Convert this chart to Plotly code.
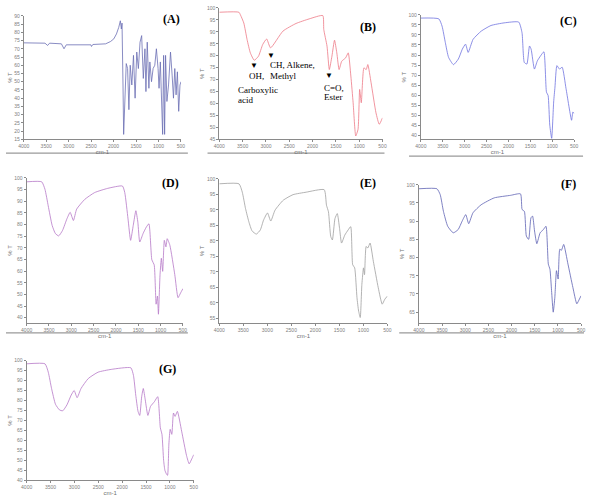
import plotly.graph_objects as go

W, H = 590, 496

# ---------------- data (wavenumber cm-1, %T) ----------------
a_wn = [4000, 3526, 3468, 3424, 3161, 3103, 3052, 2797, 2505, 2491, 2461, 2177, 2068, 1995, 1936, 1885,
        1849, 1827, 1812, 1790, 1776, 1754, 1718, 1688, 1659, 1630, 1594, 1557, 1521, 1484, 1448, 1411,
        1375, 1338, 1302, 1280, 1251, 1214, 1193, 1156, 1120, 1083, 1047, 1010, 988, 959, 930, 908, 886,
        864, 843, 813, 777, 733, 697, 667, 638, 609, 580, 551, 522, 500]
a_t = [73.6, 73.4, 72.0, 73.4, 73.0, 70.0, 72.4, 72.6, 72.4, 71.4, 72.6, 73.0, 74.4, 76.0, 79.0, 83.0,
       87.0, 82.0, 85.6, 48.0, 18.0, 34.0, 61.0, 58.0, 33.0, 60.0, 48.0, 66.0, 40.0, 68.0, 58.0, 74.0,
       78.0, 52.0, 70.0, 44.0, 74.0, 46.0, 62.0, 50.0, 58.0, 60.0, 70.0, 58.0, 46.0, 62.0, 30.0, 18.0, 66.0,
       18.0, 66.0, 38.0, 48.0, 68.0, 54.0, 40.0, 58.0, 42.0, 56.0, 32.0, 48.0, 50.0]

b_wn = [4000, 3580, 3545, 3475, 3405, 3335, 3251, 3160, 3069, 2985, 2901, 2635, 2355, 2075, 1781, 1760,
        1690, 1641, 1585, 1529, 1480, 1431, 1375, 1291, 1235, 1179, 1130, 1074, 1025, 990, 955, 899, 850,
        815, 745, 640, 570, 500]
b_t = [98.2, 98.2, 97.0, 93.7, 86.8, 81.2, 78.1, 79.8, 84.7, 87.0, 83.3, 90.3, 93.5, 95.4, 96.8, 91.0,
       84.0, 74.2, 79.8, 86.5, 81.2, 74.2, 77.7, 79.1, 81.2, 71.5, 60.3, 46.4, 49.2, 65.9, 60.3, 74.9, 74.2,
       76.3, 68.7, 56.1, 51.3, 54.0]

c_wn = [4000, 3590, 3516, 3441, 3367, 3255, 3144, 3054, 2980, 2920, 2808, 2622, 2399, 2101, 1766, 1691,
        1639, 1580, 1520, 1483, 1408, 1341, 1267, 1192, 1133, 1096, 1058, 1014, 969, 939, 895, 835, 775,
        686, 560, 530, 500]
c_t = [98.4, 98.0, 94.4, 86.2, 78.8, 75.2, 78.0, 82.9, 85.4, 81.3, 87.8, 91.9, 94.7, 96.0, 96.4, 91.1,
       76.3, 75.5, 84.5, 82.9, 73.0, 77.1, 79.6, 81.6, 61.5, 59.9, 45.1, 38.5, 56.6, 64.0, 74.7, 73.0, 73.9,
       63.2, 47.5, 51.6, 50.8]

d_wn = [4000, 3663, 3590, 3517, 3429, 3356, 3282, 3195, 3099, 3026, 2953, 2880, 2697, 2477, 2184, 1855,
        1803, 1730, 1672, 1613, 1554, 1510, 1467, 1393, 1320, 1262, 1196, 1144, 1101, 1071, 1049, 1013,
        983, 954, 917, 881, 852, 793, 683, 610, 551, 500]
d_t = [98.3, 98.3, 95.1, 88.0, 79.6, 76.1, 75.1, 77.5, 82.4, 85.2, 81.7, 86.6, 90.8, 93.7, 95.5, 96.5,
       93.7, 82.4, 73.2, 79.6, 85.9, 81.0, 72.5, 76.1, 78.9, 80.3, 64.8, 62.7, 45.8, 49.3, 41.5, 58.5,
       65.5, 59.9, 73.2, 70.4, 73.9, 71.1, 58.5, 48.6, 50.7, 52.5]

e_wn = [4000, 3591, 3522, 3454, 3386, 3318, 3229, 3147, 3079, 2997, 2929, 2840, 2670, 2465, 2192, 1817,
        1769, 1728, 1680, 1646, 1592, 1544, 1496, 1455, 1387, 1319, 1264, 1223, 1182, 1134, 1100, 1066,
        1032, 998, 977, 943, 909, 861, 793, 691, 609, 554, 500]
e_t = [98.4, 98.4, 95.7, 90.4, 86.2, 83.2, 82.2, 83.5, 86.7, 89.0, 86.4, 89.9, 93.1, 94.9, 95.7, 96.5,
       91.5, 89.4, 81.4, 80.3, 87.2, 88.8, 84.0, 79.3, 81.9, 83.5, 84.6, 72.3, 71.3, 61.7, 57.4, 55.3,
       66.0, 71.3, 69.1, 78.2, 77.7, 79.3, 73.4, 64.9, 59.6, 61.2, 62.2]

f_wn = [4000, 3611, 3540, 3470, 3378, 3258, 3152, 3067, 2989, 2925, 2833, 2657, 2374, 2020, 1808, 1773,
        1723, 1681, 1631, 1582, 1547, 1504, 1455, 1384, 1313, 1257, 1207, 1172, 1137, 1101, 1066, 1031,
        995, 960, 925, 875, 783, 677, 592, 536, 500]
f_t = [98.9, 98.9, 97.3, 92.7, 88.6, 86.8, 87.7, 90.0, 91.8, 89.3, 92.3, 94.5, 96.4, 97.1, 97.5, 93.2,
       92.7, 85.9, 85.0, 90.9, 91.4, 87.3, 83.8, 86.8, 87.7, 88.6, 78.2, 76.8, 70.9, 65.0, 69.1, 76.4,
       74.1, 82.3, 82.0, 83.6, 78.2, 71.8, 67.3, 68.6, 69.5]

g_wn = [4000, 3616, 3547, 3478, 3396, 3314, 3245, 3156, 3067, 3005, 2943, 2861, 2710, 2504, 2229, 1818,
        1763, 1715, 1667, 1632, 1591, 1557, 1516, 1461, 1406, 1324, 1255, 1200, 1166, 1131, 1104, 1076,
        1049, 1021, 994, 960, 925, 891, 843, 754, 651, 596, 541, 500]
g_t = [98.4, 98.4, 94.2, 86.0, 78.1, 75.3, 74.8, 77.8, 82.7, 85.0, 81.4, 86.0, 91.0, 94.2, 95.6, 96.4,
       92.6, 82.7, 74.5, 72.5, 81.9, 86.0, 80.3, 72.5, 77.0, 79.4, 81.9, 66.3, 63.0, 49.8, 44.9, 43.3,
       42.4, 58.1, 65.5, 63.0, 73.7, 72.0, 74.5, 64.6, 52.3, 48.2, 50.7, 52.8]

x_ticks = [4000, 3500, 3000, 2500, 2000, 1500, 1000, 500]

panels = [
    dict(label="(A)", wn=a_wn, t=a_t, color="#6b6fb4", box=(18, 178, 13, 138), yr=(15, 90), lab=(168, 16), smooth=0),
    dict(label="(B)", wn=b_wn, t=b_t, color="#ee7a86", box=(217, 383, 5, 138), yr=(45, 100), lab=(368, 24), smooth=0.5),
    dict(label="(C)", wn=c_wn, t=c_t, color="#7074e0", box=(422, 578, 12, 138), yr=(38, 100), lab=(572, 18), smooth=0.5),
    dict(label="(D)", wn=d_wn, t=d_t, color="#b678c8", box=(21, 180, 177, 324), yr=(37.7, 100), lab=(167, 182), smooth=0.5),
    dict(label="(E)", wn=e_wn, t=e_t, color="#a0a0a0", box=(217, 388, 178, 324), yr=(53.5, 100), lab=(368, 182), smooth=0.5),
    dict(label="(F)", wn=f_wn, t=f_t, color="#5e62b4", box=(420, 585, 184, 324), yr=(62, 100), lab=(572, 183), smooth=0.5),
    dict(label="(G)", wn=g_wn, t=g_t, color="#b678c8", box=(21, 191, 362, 483), yr=(40, 100), lab=(164, 370), smooth=0.5),
]

def px(x):
    return x / W

def py(y):
    return 1 - y / H

fig = go.Figure()
layout = dict(width=W, height=H, margin=dict(l=0, r=0, t=0, b=0),
              paper_bgcolor="white", plot_bgcolor="white", showlegend=False)
annotations = []
shapes = []
tickfont = dict(family="Liberation Sans, Arial", size=5, color="#808080")
titlefont = dict(family="Liberation Sans, Arial", size=6, color="#707070")

for i, p in enumerate(panels):
    n = "" if i == 0 else str(i + 1)
    x0, x1, y0, y1 = p["box"]
    line = dict(color=p["color"], width=0.8)
    if p["smooth"]:
        line.update(shape="spline", smoothing=p["smooth"])
    fig.add_trace(go.Scatter(x=p["wn"], y=p["t"], mode="lines", line=line,
                             xaxis="x" + n, yaxis="y" + n, hoverinfo="skip"))
    layout["xaxis" + n] = dict(domain=[px(x0), px(x1)], anchor="y" + n, range=[4000, 500],
                               tickvals=x_ticks, ticktext=[str(v) for v in x_ticks],
                               showgrid=False, zeroline=False, showline=True, linecolor="#8a8a8a",
                               linewidth=1, ticks="outside", ticklen=2, tickcolor="#8a8a8a",
                               tickfont=tickfont,
                               title=dict(text="cm-1", font=titlefont, standoff=0))
    yt = list(range(int(-(-p["yr"][0] // 5) * 5), int(p["yr"][1]) + 1, 5))
    layout["yaxis" + n] = dict(domain=[py(y1), py(y0)], anchor="x" + n, range=list(p["yr"]),
                               tickvals=yt, showgrid=False, zeroline=False, showline=True,
                               linecolor="#8a8a8a", linewidth=1, ticks="outside", ticklen=2,
                               tickcolor="#8a8a8a", tickfont=tickfont,
                               title=dict(text="% T", font=titlefont, standoff=1))
    annotations.append(dict(x=px(p["lab"][0]), y=py(p["lab"][1]), xref="paper", yref="paper",
                            xanchor="center", yanchor="middle",
                            text="<b>" + p["label"] + "</b>", showarrow=False,
                            font=dict(family="Liberation Serif, Times New Roman", size=12, color="black")))

# separator lines under panels
for (xa, xb, yy) in [(0, 185, 152), (205, 385, 152), (410, 587, 155), (0, 185, 334), (400, 588, 334)]:
    shapes.append(dict(type="line", xref="paper", yref="paper", x0=px(xa), x1=px(xb),
                       y0=py(yy), y1=py(yy), line=dict(color="#9a9a9a", width=1.2)))

# band annotations in panel B
serif = dict(family="Liberation Serif, Times New Roman", size=9, color="black")
for (tx, xx, yy, anc) in [
    ("▼", 252, 62, "center"), ("OH,", 245, 74, "left"), ("Carboxylic", 234, 88, "left"), ("acid", 234, 98, "left"),
    ("▼", 270, 52, "center"), ("CH, Alkene,", 267, 63, "left"), ("Methyl", 267, 74, "left"),
    ("▼", 329, 72, "center"), ("C=O,", 321, 86, "left"), ("Ester", 321, 95, "left")]:
    annotations.append(dict(x=px(xx), y=py(yy), xref="paper", yref="paper", text=tx, showarrow=False,
                            xanchor=anc, yanchor="middle",
                            font=serif if tx != "▼" else dict(size=8, color="black")))

layout["annotations"] = annotations
layout["shapes"] = shapes
fig.update_layout(**layout)
fig.write_html("out.html")
